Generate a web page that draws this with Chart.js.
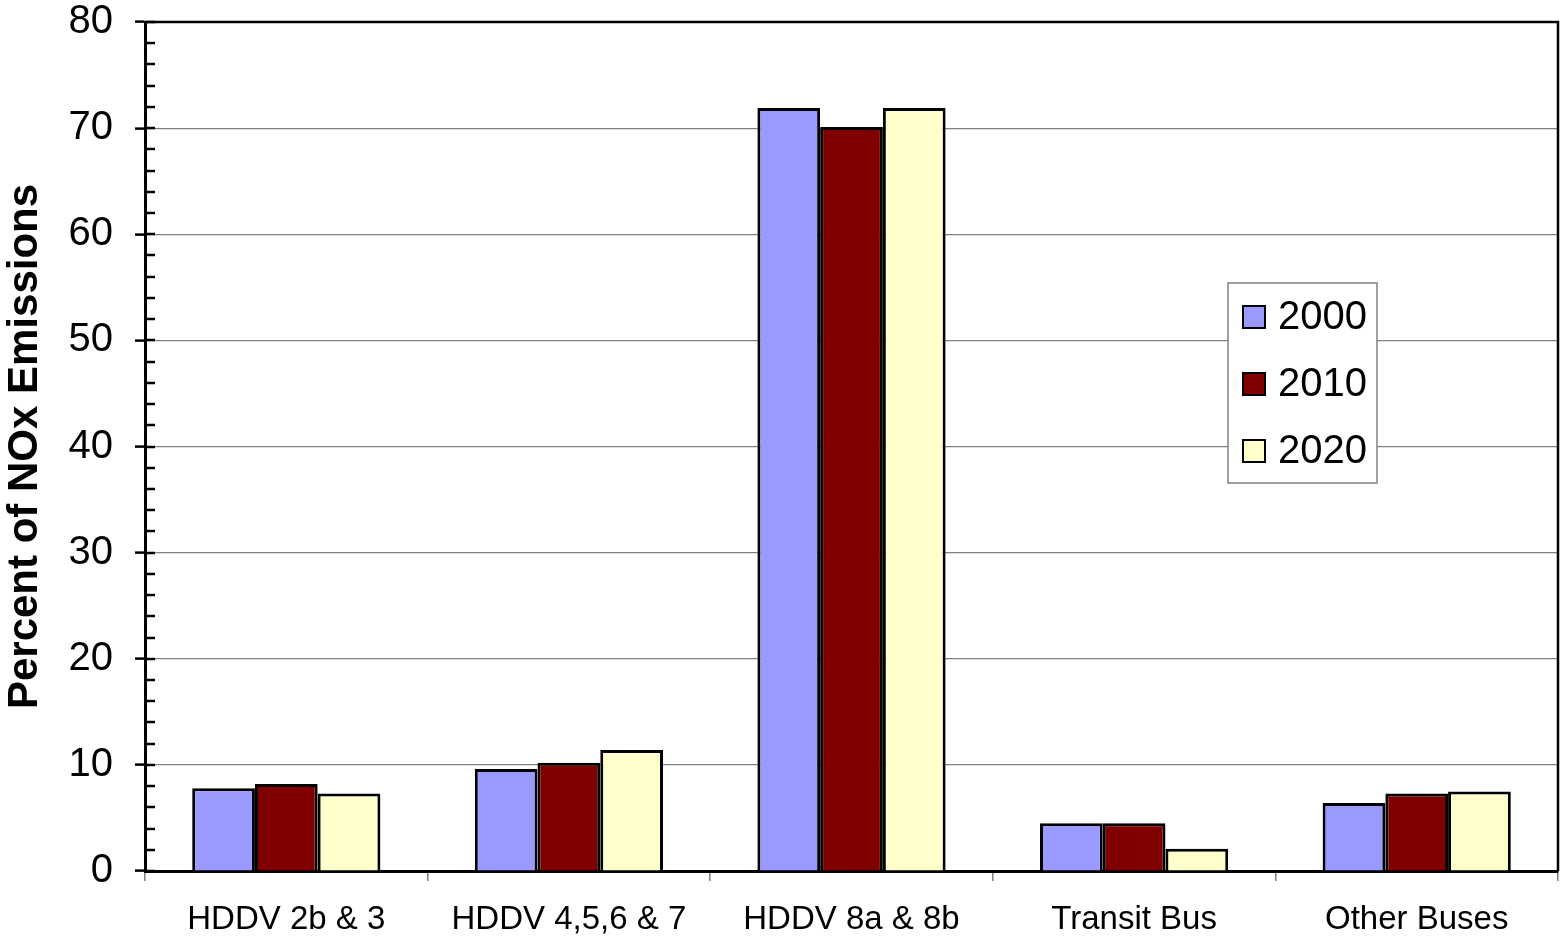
<!DOCTYPE html>
<html>
<head>
<meta charset="utf-8">
<script src="https://cdn.jsdelivr.net/npm/chart.js@4"></script>
<style>
body{margin:0;background:#fff}
</style>
</head>
<body>
<canvas id="grafico" width="1562" height="941"></canvas>
<script>

const categorias=["HDDV 2b & 3","HDDV 4,5,6 & 7","HDDV 8a & 8b","Transit Bus","Other Buses"]
const anos=["2000","2010","2020"]
const valores2000=[7.8,9.6,71.9,4.5,6.4]
const valores2010=[8.2,10.2,70.1,4.5,7.3]
const valores2020=[7.3,11.4,71.9,2.1,7.5]
const cores=["#9999FF","#800000","#FFFFCC"]
const ticksY=[0,10,20,30,40,50,60,70,80]

const fonte="'Liberation Sans', Arial, sans-serif"

// moldura, tracinhos menores e legenda dentro da area do grafico
const extras={
id:"extras",
afterDraw(chart){
let ctx=chart.ctx
let a=chart.chartArea
let y=chart.scales.y
ctx.save()
ctx.strokeStyle="#000"
ctx.lineWidth=2.5
ctx.beginPath()
ctx.moveTo(a.left,a.top)
ctx.lineTo(a.right,a.top)
ctx.lineTo(a.right,a.bottom)
ctx.stroke()

// tracinhos a cada 2 unidades, para dentro
for(let v=0;v<=80;v+=2){
let py=Math.round(y.getPixelForValue(v))
ctx.beginPath()
ctx.moveTo(a.left,py)
ctx.lineTo(a.left+10,py)
ctx.stroke()
}

// legenda
let lx=1228,ly=283,lw=149,lh=200
ctx.fillStyle="#fff"
ctx.fillRect(lx,ly,lw,lh)
ctx.strokeStyle="#808080"
ctx.lineWidth=1.5
ctx.strokeRect(lx,ly,lw,lh)
chart.data.datasets.forEach((ds,i)=>{
let cy=ly+34+i*67
ctx.fillStyle=ds.backgroundColor
ctx.fillRect(lx+15,cy-11,22,22)
ctx.strokeStyle="#000"
ctx.lineWidth=2
ctx.strokeRect(lx+15,cy-11,22,22)
ctx.fillStyle="#000"
ctx.font="40px "+fonte
ctx.textBaseline="middle"
ctx.textAlign="left"
ctx.fillText(ds.label,lx+50,cy+1)
})
ctx.restore()
}
}

new Chart(document.getElementById("grafico"),{

type:"bar",

data:{
labels:categorias,
datasets:[
{label:anos[0],data:valores2000,backgroundColor:cores[0]},
{label:anos[1],data:valores2010,backgroundColor:cores[1]},
{label:anos[2],data:valores2020,backgroundColor:cores[2]}
]
},

options:{
responsive:false,
animation:false,
devicePixelRatio:1,
layout:{padding:{top:22,right:4,left:0,bottom:0}},
datasets:{bar:{
borderColor:"#000",
borderWidth:3,
barPercentage:1,
categoryPercentage:0.666
}},
plugins:{
legend:{display:false},
tooltip:{enabled:false}
},
scales:{
x:{
afterFit(s){s.height=70},
grid:{
drawOnChartArea:false,
drawTicks:true,
tickLength:10,
color:"#808080",
lineWidth:1.5
},
border:{color:"#000",width:3},
ticks:{
color:"#000",
padding:19,
font:{family:fonte,size:33}
}
},
y:{
min:0,
max:80,
afterFit(s){
s.width=145
s.paddingTop=0
s.paddingBottom=0
},
afterBuildTicks(s){s.ticks=ticksY.map(v=>({value:v}))},
grid:{
color:c=>(c.tick&&(c.tick.value===0||c.tick.value===80))?"rgba(0,0,0,0)":"#808080",
lineWidth:1.2,
drawTicks:true,
tickLength:10,
tickColor:"#000",
tickWidth:2.5
},
border:{color:"#000",width:3},
ticks:{
color:"#000",
padding:22,
font:{family:fonte,size:40}
},
title:{
display:true,
text:"Percent of NOx Emissions",
color:"#000",
padding:{top:0,bottom:0},
font:{family:fonte,size:42,weight:"bold"}
}
}
}
},

plugins:[extras]

})

</script>
</body>
</html>
